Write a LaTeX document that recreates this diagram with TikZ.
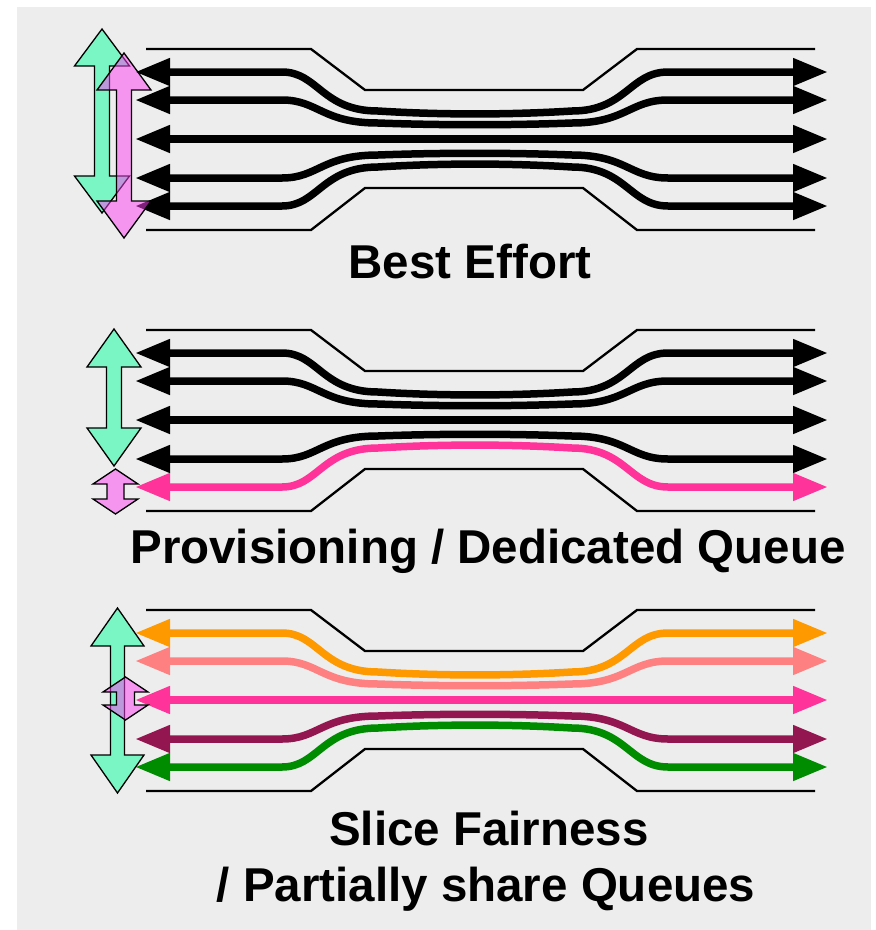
\documentclass[tikz,border=0pt]{standalone}
\usepackage{fontspec}
\setmainfont{Liberation Sans}
\usetikzlibrary{positioning, arrows.meta}

\definecolor{bggray}{RGB}{237,237,237}
\definecolor{mint}{RGB}{122,245,196}
\definecolor{lilac}{RGB}{253,63,243}
\definecolor{hotpink}{RGB}{255,51,153}
\definecolor{flowOrange}{RGB}{255,153,0}
\definecolor{flowSalmon}{RGB}{255,128,128}
\definecolor{flowMaroon}{RGB}{148,22,80}
\definecolor{flowGreen}{RGB}{0,140,0}

% walls of the bottleneck
\newcommand{\channel}{%
    \draw[wall] (146,49) -- (311,49) -- (365,90) -- (583,90) -- (637,49) -- (815,49) ;
    \draw[wall] (146,230) -- (311,230) -- (365,188) -- (583,188) -- (637,230) -- (815,230) ;
}
% #1 colour, #2 outer y, #3 inner y
\newcommand{\bentflow}[3]{%
    \draw[flow, color=#1] (135,#2) -- (282,#2) .. controls (318,#2) and (322,#3) .. (378,#3)
        .. controls (440,{#3+0.1*(#3-#2)}) and (510,{#3+0.1*(#3-#2)}) .. (572,#3)
        .. controls (626,#3) and (630,#2) .. (668,#2) -- (828,#2) ;
}
\newcommand{\straightflow}[2]{%
    \draw[flow, color=#1] (135,#2) -- (828,#2) ;
}
% #1 style, #2 x, #3 top, #4 bottom, #5 head half width, #6 head length, #7 shaft half width
\newcommand{\bidirarrow}[7]{%
    \draw[#1] (#2,#3) -- ({#2+#5},{#3+#6}) -- ({#2+#7},{#3+#6}) -- ({#2+#7},{#4-#6})
        -- ({#2+#5},{#4-#6}) -- (#2,#4) -- ({#2-#5},{#4-#6}) -- ({#2-#7},{#4-#6})
        -- ({#2-#7},{#3+#6}) -- ({#2-#5},{#3+#6}) -- cycle ;
}

\begin{document}
\begin{tikzpicture}
    [
        x=1pt, y=-1pt,
        wall/.style={line width=2.3pt, color=black},
        flow/.style={line width=7.5pt, {Triangle[length=35pt, width=26pt]}-{Triangle[length=35pt, width=26pt]}},
        share/.style={draw=black, line width=1.3pt, line join=miter, fill=mint},
        slice/.style={draw=black, line width=1.3pt, line join=miter, fill=lilac, fill opacity=0.5},
        caption/.style={font=\bfseries\fontsize{47.5}{56}\selectfont, anchor=base, inner sep=0pt},
    ]
        \useasboundingbox (0,0) rectangle (876,930) ;
        \fill[bggray] (17,7) rectangle (871,930) ;

        % best effort
        \channel
        \bentflow{black}{72}{111}
        \bentflow{black}{100}{123}
        \straightflow{black}{139}
        \bentflow{black}{178}{155}
        \bentflow{black}{206}{167}
        \bidirarrow{share}{102}{29}{213}{27.5}{37}{7.5}
        \bidirarrow{slice}{124}{53}{238}{27}{37}{7.5}
        \node[caption] (best) at (470,278) {Best Effort} ;

        % provisioning
        \begin{scope}[yshift=-281pt]
            \channel
            \bentflow{black}{72}{111}
            \bentflow{black}{100}{123}
            \straightflow{black}{139}
            \bentflow{black}{178}{155}
            \bentflow{hotpink}{206}{167}
            \bidirarrow{share}{114}{48}{185}{27}{38}{7.5}
            \bidirarrow{slice}{115.5}{188}{233}{22.5}{15}{8.5}
        \end{scope}
        \node[caption] (prov) at (488,563) {Provisioning / Dedicated Queue} ;

        % slice fairness
        \begin{scope}[yshift=-561pt]
            \channel
            \bentflow{flowOrange}{72}{111}
            \bentflow{flowSalmon}{100}{123}
            \straightflow{hotpink}{139}
            \bentflow{flowMaroon}{178}{155}
            \bentflow{flowGreen}{206}{167}
            \bidirarrow{share}{117.5}{47}{232}{26.5}{38}{7}
            \bidirarrow{slice}{125.5}{116}{159}{22.5}{15}{9}
        \end{scope}
        \node[caption] (fair) at (489,845) {Slice Fairness} ;
        \node[caption] (partial) at (486,901) {/ Partially share Queues} ;
    \end{tikzpicture}
\end{document}
